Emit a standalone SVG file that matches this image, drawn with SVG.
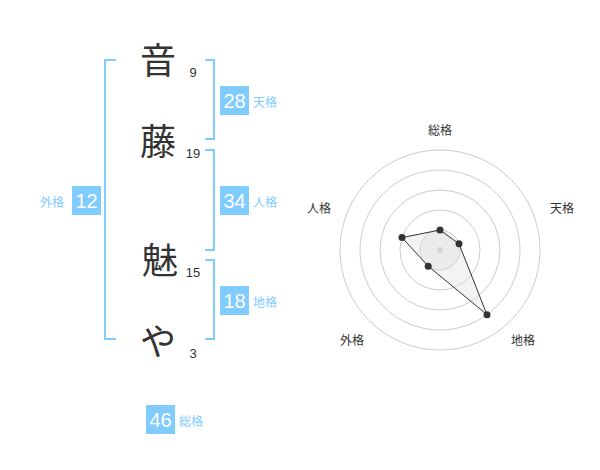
<svg xmlns="http://www.w3.org/2000/svg" width="600" height="470" viewBox="0 0 600 470">
<style>
.ch{font-family:"Noto Sans CJK JP","Noto Sans CJK SC",sans-serif;font-size:36px;fill:#333;text-anchor:middle}
.st{font-family:"Liberation Sans",Arial,sans-serif;font-size:13px;fill:#333;text-anchor:middle}
.br{fill:none;stroke:#80ccff;stroke-width:2}
.bx{fill:#80ccff}
.bn{font-family:"Liberation Sans",Arial,sans-serif;font-size:20px;fill:#fff;text-anchor:middle}
.lb{font-family:"Noto Sans CJK JP","Noto Sans CJK SC",sans-serif;font-size:12px;fill:#80ccff}
.rl{font-family:"Noto Sans CJK JP","Noto Sans CJK SC",sans-serif;font-size:12px;fill:#333;text-anchor:middle}
.ring{fill:none;stroke:#ccc;stroke-width:1}
.pt{fill:#333}
</style>
<rect width="600" height="470" fill="#fff"/>
<g id="name">
<g id="c1"><text class="ch" x="158" y="74">音</text><text class="st" x="193" y="77">9</text></g>
<g id="c2"><text class="ch" x="158" y="155">藤</text><text class="st" x="193" y="158">19</text></g>
<g id="c3"><text class="ch" x="160" y="274">魅</text><text class="st" x="193" y="277">15</text></g>
<g id="c4"><text class="ch" x="158" y="355">や</text><text class="st" x="193" y="358">3</text></g>
</g>
<g id="brackets">
<path class="br" d="M116 60H105V339H116"/>
<path class="br" d="M205 60H214V139H205"/>
<path class="br" d="M205 150H214V250H205"/>
<path class="br" d="M205 260H214V339H205"/>
</g>
<g id="tenkaku"><rect class="bx" x="220" y="86" width="29" height="29"/><text class="bn" x="234.5" y="108">28</text><text class="lb" x="253" y="107">天格</text></g>
<g id="jinkaku"><rect class="bx" x="220" y="186" width="29" height="29"/><text class="bn" x="234.5" y="208">34</text><text class="lb" x="253" y="207">人格</text></g>
<g id="chikaku"><rect class="bx" x="220" y="286" width="29" height="29"/><text class="bn" x="234.5" y="308">18</text><text class="lb" x="253" y="307">地格</text></g>
<g id="gaikaku"><rect class="bx" x="72" y="186" width="29" height="29"/><text class="bn" x="86.5" y="208">12</text><text class="lb" x="40" y="207">外格</text></g>
<g id="soukaku"><rect class="bx" x="146" y="405" width="29" height="29"/><text class="bn" x="160.5" y="427">46</text><text class="lb" x="179" y="426">総格</text></g>
<g id="radar">
<circle cx="440" cy="250" r="20" fill="#f2f2f2" stroke="#ccc"/>
<circle class="ring" cx="440" cy="250" r="40"/>
<circle class="ring" cx="440" cy="250" r="60"/>
<circle class="ring" cx="440" cy="250" r="80"/>
<circle class="ring" cx="440" cy="250" r="100"/>
<circle cx="440" cy="250" r="3" fill="#ccc"/>
<polygon points="440,230 459,243.8 487,314.7 428.2,266.2 402,237.6" fill="#e0e0e0" fill-opacity="0.4" stroke="#333" stroke-width="1"/>
<circle class="pt" cx="440" cy="230" r="3.5"/>
<circle class="pt" cx="459" cy="243.8" r="3.5"/>
<circle class="pt" cx="487" cy="314.7" r="3.5"/>
<circle class="pt" cx="428.2" cy="266.2" r="3.5"/>
<circle class="pt" cx="402" cy="237.6" r="3.5"/>
<text class="rl" x="440" y="135">総格</text>
<text class="rl" x="562" y="213">天格</text>
<text class="rl" x="523" y="345">地格</text>
<text class="rl" x="352" y="345">外格</text>
<text class="rl" x="319" y="213">人格</text>
</g>
</svg>
